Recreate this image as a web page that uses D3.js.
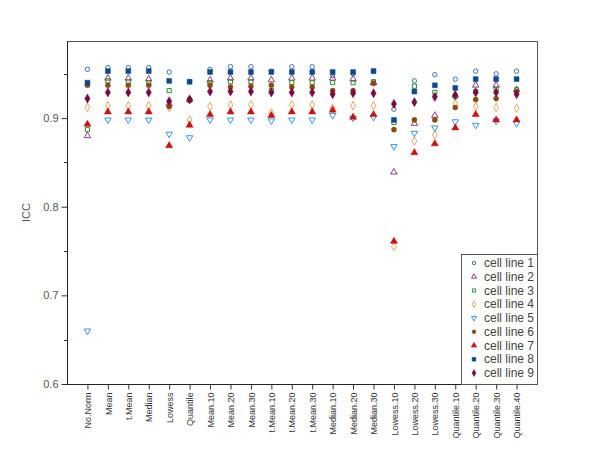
<!DOCTYPE html>
<html>
<head>
<meta charset="utf-8">
<script src="https://cdn.jsdelivr.net/npm/d3@7"></script>
<style>
  body { margin: 0; background: #fff; }
  text { font-family: "Liberation Sans", Arial, sans-serif; }
</style>
</head>
<body>
<div id="chart"></div>
<script>
let categories = ["No.Norm", "Mean", "t.Mean", "Median", "Lowess", "Quantile",
  "Mean.10", "Mean.20", "Mean.30", "t.Mean.10", "t.Mean.20", "t.Mean.30",
  "Median.10", "Median.20", "Median.30", "Lowess.10", "Lowess.20", "Lowess.30",
  "Quantile.10", "Quantile.20", "Quantile.30", "Quantile.40"];

let yTicks = [0.6, 0.7, 0.8, 0.9];
let yMinorTicks = [0.65, 0.75, 0.85, 0.95];

let seriesNames = ["cell line 1", "cell line 2", "cell line 3", "cell line 4", "cell line 5",
  "cell line 6", "cell line 7", "cell line 8", "cell line 9"];

let line1 = [0.955, 0.957, 0.957, 0.957, 0.952, 0.941, 0.955, 0.958, 0.958, 0.953, 0.958, 0.958,
  0.948, 0.950, 0.953, 0.910, 0.942, 0.949, 0.944, 0.953, 0.950, 0.953];
let line2 = [0.880, 0.945, 0.945, 0.944, 0.916, 0.921, 0.943, 0.945, 0.945, 0.943, 0.945, 0.945,
  0.945, 0.944, 0.940, 0.839, 0.894, 0.903, 0.926, 0.937, 0.937, 0.932];
let line3 = [0.887, 0.942, 0.941, 0.940, 0.931, 0.920, 0.940, 0.941, 0.941, 0.931, 0.940, 0.940,
  0.940, 0.940, 0.941, 0.895, 0.936, 0.929, 0.924, 0.930, 0.933, 0.932];
let line4 = [0.912, 0.914, 0.914, 0.914, 0.912, 0.898, 0.913, 0.915, 0.915, 0.906, 0.915, 0.915,
  0.911, 0.914, 0.914, 0.755, 0.874, 0.881, 0.916, 0.913, 0.912, 0.911];
let line5 = [0.660, 0.898, 0.898, 0.898, 0.882, 0.878, 0.898, 0.898, 0.898, 0.897, 0.898, 0.898,
  0.903, 0.900, 0.901, 0.868, 0.883, 0.889, 0.896, 0.892, 0.897, 0.894];
let line6 = [0.937, 0.937, 0.937, 0.937, 0.913, 0.921, 0.937, 0.935, 0.936, 0.937, 0.935, 0.935,
  0.931, 0.931, 0.939, 0.887, 0.898, 0.898, 0.912, 0.921, 0.922, 0.930];
let line7 = [0.893, 0.907, 0.907, 0.907, 0.869, 0.892, 0.904, 0.907, 0.907, 0.903, 0.907, 0.907,
  0.909, 0.901, 0.904, 0.761, 0.861, 0.871, 0.889, 0.904, 0.898, 0.898];
let line8 = [0.940, 0.953, 0.953, 0.953, 0.942, 0.941, 0.952, 0.952, 0.952, 0.952, 0.952, 0.952,
  0.952, 0.952, 0.953, 0.898, 0.930, 0.937, 0.934, 0.944, 0.944, 0.944];
let line9 = [0.922, 0.929, 0.929, 0.929, 0.919, 0.921, 0.930, 0.930, 0.930, 0.929, 0.929, 0.929,
  0.927, 0.928, 0.928, 0.916, 0.918, 0.924, 0.926, 0.929, 0.929, 0.927];

let seriesValues = [line1, line2, line3, line4, line5, line6, line7, line8, line9];
let seriesColors = ["#3f6fa8", "#8b3a80", "#2e8b2e", "#e8a45a", "#3399dd",
  "#8b4a0a", "#cc1111", "#0b4a8c", "#7a0a45"];
let seriesShapes = [d3.symbolCircle, d3.symbolTriangle, d3.symbolSquare, d3.symbolDiamond,
  d3.symbolTriangle, d3.symbolCircle, d3.symbolTriangle, d3.symbolSquare, d3.symbolDiamond];
let seriesFilled = [false, false, false, false, false, true, true, true, true];
let seriesFlip = [false, false, false, false, true, false, false, false, false];
let seriesSize = [15, 18, 17, 20, 18, 20, 22, 24, 24];

let width = 600, height = 463;
let plotLeft = 67, plotRight = 537, plotTop = 41, plotBottom = 384;

let svg = d3.select("#chart").append("svg")
    .attr("width", width)
    .attr("height", height);

let x = d3.scalePoint().domain(categories).range([plotLeft, plotRight]).padding(1);
let y = d3.scaleLinear().domain([0.6, 0.987]).range([plotBottom, plotTop]);

// frame top & right
svg.append("path")
    .attr("d", "M" + plotLeft + "," + (plotTop + 0.5) + "H" + (plotRight + 0.5) + "V" + plotBottom)
    .attr("fill", "none")
    .attr("stroke", "#555")
    .attr("stroke-width", 1);

// y axis
let yAxis = svg.append("g")
    .attr("transform", "translate(" + (plotLeft + 0.5) + ",0)")
    .call(d3.axisLeft(y).tickValues(yTicks).tickSize(6).tickFormat(d3.format(".1f")));
yAxis.select(".domain").attr("stroke", "#222").attr("d", "M0," + plotTop + "V" + plotBottom);
yAxis.selectAll(".tick line").attr("stroke", "#333");
yAxis.selectAll("text").attr("font-size", 11).attr("fill", "#555")
    .attr("font-family", "Liberation Sans, Arial, sans-serif").attr("x", -9);

svg.append("g").selectAll("line")
    .data(yMinorTicks)
    .enter().append("line")
    .attr("x1", plotLeft - 3).attr("x2", plotLeft)
    .attr("y1", function(d) { return Math.round(y(d)) + 0.5; })
    .attr("y2", function(d) { return Math.round(y(d)) + 0.5; })
    .attr("stroke", "#333");

// x axis
let xAxis = svg.append("g")
    .attr("transform", "translate(0," + (plotBottom + 0.5) + ")")
    .call(d3.axisBottom(x).tickSize(5));
xAxis.select(".domain").attr("stroke", "#222").attr("d", "M" + plotLeft + ",0H" + (plotRight + 0.5));
xAxis.selectAll(".tick line").attr("stroke", "#333");
xAxis.selectAll("text")
    .attr("font-size", 9)
    .attr("fill", "#333")
    .attr("font-family", "Liberation Sans, Arial, sans-serif")
    .attr("text-anchor", "end")
    .attr("transform", "translate(0,8) rotate(-90)")
    .attr("x", 0).attr("y", 0).attr("dy", "0.35em");

svg.append("text")
    .attr("transform", "translate(30," + ((plotTop + plotBottom) / 2) + ") rotate(-90)")
    .attr("text-anchor", "middle")
    .attr("font-size", 11)
    .attr("fill", "#555")
    .text("ICC");

// points
seriesValues.forEach(function(vals, i) {
  let sym = d3.symbol().type(seriesShapes[i]).size(seriesSize[i]);
  svg.append("g").selectAll("path")
      .data(vals)
      .enter().append("path")
      .attr("d", sym)
      .attr("transform", function(d, j) {
          return "translate(" + x(categories[j]) + "," + y(d) + ")" + (seriesFlip[i] ? " rotate(180)" : "");
      })
      .attr("fill", seriesFilled[i] ? seriesColors[i] : "none")
      .attr("stroke", seriesColors[i])
      .attr("stroke-width", seriesFilled[i] ? 0.5 : 1);
});

// legend
let lg = svg.append("g");
lg.append("rect")
    .attr("x", 461.5).attr("y", 254.5)
    .attr("width", 76).attr("height", 130)
    .attr("fill", "#fff").attr("stroke", "#555");

seriesNames.forEach(function(name, i) {
  let ly = 263 + i * 13.75;
  let sym = d3.symbol().type(seriesShapes[i]).size(seriesSize[i] * 0.6);
  lg.append("path")
      .attr("d", sym)
      .attr("transform", "translate(474," + ly + ")" + (seriesFlip[i] ? " rotate(180)" : ""))
      .attr("fill", seriesFilled[i] ? seriesColors[i] : "none")
      .attr("stroke", seriesColors[i])
      .attr("stroke-width", seriesFilled[i] ? 0.5 : 1);
  lg.append("text")
      .attr("x", 484).attr("y", ly)
      .attr("dy", "0.35em")
      .attr("font-size", 12)
      .attr("fill", "#444")
      .text(name);
});
</script>
</body>
</html>
